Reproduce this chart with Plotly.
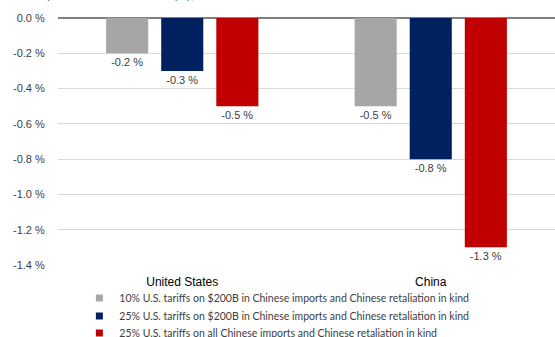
import plotly.graph_objects as go

categories = ["United States", "China"]
series_names = [
    "10% U.S. tariffs on $200B in Chinese imports and Chinese retaliation in kind",
    "25% U.S. tariffs on $200B in Chinese imports and Chinese retaliation in kind",
    "25% U.S. tariffs on all Chinese imports and Chinese retaliation in kind",
]
series_values = [
    [-0.2, -0.5],
    [-0.3, -0.8],
    [-0.5, -1.3],
]
colors = ["#A6A6A6", "#002060", "#C00000"]
tick_vals = [0.0, -0.2, -0.4, -0.6, -0.8, -1.0, -1.2, -1.4]
title_text = "Impact on real GDP in 2019 (%), deviation from the baseline scenario"

legend_ids = ["legend", "legend2", "legend3"]

fig = go.Figure()
for name, vals, col in zip(series_names, series_values, colors):
    fig.add_trace(go.Bar(
        x=categories, y=vals, name=name, showlegend=False,
        marker=dict(color=col, line=dict(width=0)),
        text=[f"{v:.1f} %" for v in vals],
        textposition="outside",
        textfont=dict(family="Liberation Sans, Arial", size=11, color="#404040"),
        cliponaxis=False,
    ))
# legend proxies with small square symbols
for name, col, lid in zip(series_names, colors, legend_ids):
    fig.add_trace(go.Scatter(
        x=[None], y=[None], mode="markers", name=name, legend=lid,
        marker=dict(symbol="square", size=7, color=col),
        showlegend=True,
    ))

legend_font = dict(family="Lato, Liberation Sans", size=10.5, color="#404040")
plot_h = 337 - 18 - 72
leg_y = [298, 316, 333]
legends = {}
for lid, py in zip(legend_ids, leg_y):
    legends[lid] = dict(
        orientation="v", x=0.043, xanchor="left",
        y=(337 - 72 - py) / plot_h, yanchor="middle",
        font=legend_font, itemwidth=30, bgcolor="rgba(0,0,0,0)",
        borderwidth=0,
    )

fig.update_layout(
    width=555, height=337,
    margin=dict(l=58, r=0, t=18, b=72, autoexpand=False),
    paper_bgcolor="white", plot_bgcolor="white",
    barmode="group", bargap=0.335, bargroupgap=0.236,
    font=dict(family="Liberation Sans, Arial", color="#404040"),
    annotations=[dict(
        text=title_text, xref="paper", yref="paper", x=-0.05, y=1.062,
        xanchor="left", yanchor="bottom", showarrow=False,
        font=dict(family="Liberation Sans, Arial", size=11, color="#595959"),
    )],
    **legends,
)
fig.update_yaxes(
    range=[-1.4, 0], tickvals=tick_vals,
    ticktext=[f"{v:.1f} %" for v in tick_vals],
    showgrid=True, gridcolor="#D9D9D9", gridwidth=1,
    zeroline=True, zerolinecolor="#808080", zerolinewidth=1.5,
    ticks="outside", ticklen=10, tickcolor="rgba(0,0,0,0)",
    tickfont=dict(family="Liberation Sans, Arial", size=11, color="#404040"),
    showline=False,
)
fig.update_xaxes(
    showgrid=False, showline=False, ticks="outside", ticklen=6, tickcolor="rgba(0,0,0,0)",
    tickfont=dict(family="Liberation Sans, Arial", size=12, color="#000000"),
)
fig.write_html("out.html")
